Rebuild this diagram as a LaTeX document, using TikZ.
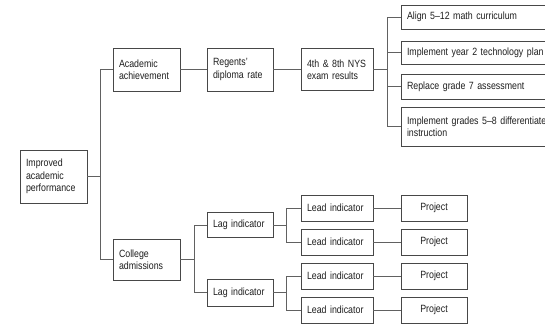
\documentclass[tikz,border=0pt]{standalone}
\usepackage{fontspec}
\setmainfont{Liberation Sans}[FakeStretch=0.84]
\begin{document}
\begin{tikzpicture}[x=1pt,y=-1pt,
  box/.style={draw=black!72, line width=0.8pt, fill=white, text=black!88,
    inner xsep=6pt, inner ysep=2pt, align=left,
    font=\fontsize{10.5}{12.5}\selectfont},
  wide/.style={box, text width=148pt},
  proj/.style={box, text width=54pt, align=center, minimum height=26pt},
  lead/.style={box, text width=60pt, minimum height=26pt},
  link/.style={draw=black!62, line width=0.9pt}]
\useasboundingbox (0,0) rectangle (545,324);
\clip (0,0) rectangle (545,324);

% goal and first-level measures
\node[box, text width=55pt, minimum height=53pt] (root) at (53.5,176.5) {Improved\\academic\\performance};
\node[box, text width=55pt, minimum height=43pt] (acad) at (146.5,69.5) {Academic\\achievement};
\node[box, text width=54pt, minimum height=43pt] (regents) at (240,69.5) {Regents'\\diploma rate};
\node[box, text width=60pt, minimum height=42pt] (exam) at (337,69.5) {4th \& 8th NYS\\exam results};

% initiatives under the exam results
\node[wide, minimum height=24pt] (align) at (481,17) {Align 5--12 math curriculum};
\node[wide, minimum height=23pt] (tech) at (481,52.5) {Implement year 2 technology plan};
\node[wide, minimum height=25pt] (replace) at (481,86.5) {Replace grade 7 assessment};
\node[wide, minimum height=39pt] (impl) at (481,126.5) {Implement grades 5--8 differentiate\\instruction};

% college admissions branch
\node[box, text width=55pt, minimum height=41pt] (college) at (146.5,259.5) {College\\admissions};
\node[box, text width=54pt, minimum height=25pt] (lag1) at (240,225) {Lag indicator};
\node[box, text width=54pt, minimum height=27pt] (lag2) at (240,292.5) {Lag indicator};
\node[lead] (lead1) at (337,208) {Lead indicator};
\node[lead] (lead2) at (337,242) {Lead indicator};
\node[lead] (lead3) at (337,276) {Lead indicator};
\node[lead] (lead4) at (337,310) {Lead indicator};
\node[proj] (p1) at (434,208) {Project};
\node[proj] (p2) at (434,242) {Project};
\node[proj] (p3) at (434,276) {Project};
\node[proj] (p4) at (434,310) {Project};

% connectors
\path[link] (root.east) -- ++(13,0) |- (acad.west);
\path[link] (root.east) -- ++(13,0) |- (college.west);
\path[link] (acad.east) -- (regents.west);
\path[link] (regents.east) -- (exam.west);
\foreach \t in {align,tech,replace,impl}
  \path[link] (exam.east) -- ++(14,0) |- (\t.west);
\path[link] (college.east) -- ++(14,0) |- (lag1.west);
\path[link] (college.east) -- ++(14,0) |- (lag2.west);
\path[link] (lag1.east) -- ++(13,0) |- (lead1.west);
\path[link] (lag1.east) -- ++(13,0) |- (lead2.west);
\path[link] (lag2.east) -- ++(13,0) |- (lead3.west);
\path[link] (lag2.east) -- ++(13,0) |- (lead4.west);
\foreach \i in {1,2,3,4}
  \path[link] (lead\i.east) -- (p\i.west);
\end{tikzpicture}
\end{document}
